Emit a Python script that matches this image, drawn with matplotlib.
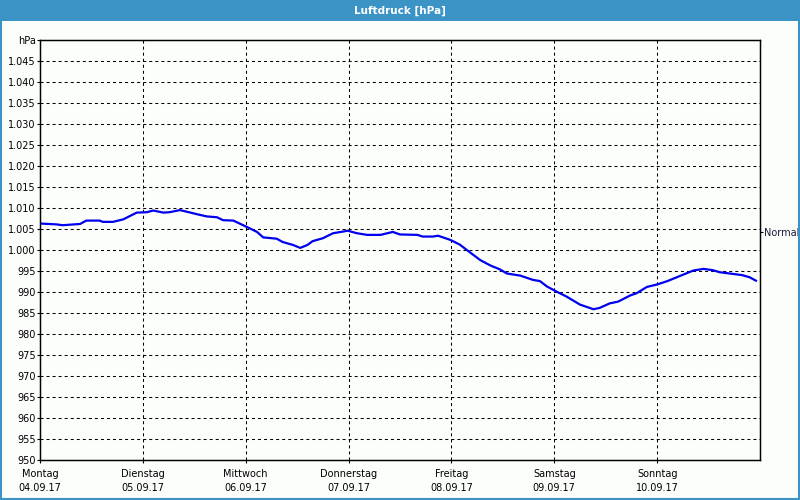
import matplotlib
matplotlib.use("Agg")
import matplotlib.pyplot as plt
from matplotlib.patches import Rectangle

# time in days since Monday 04.09.17 00:00, pressure in hPa
days = [0.0, 0.16, 0.22, 0.39, 0.45, 0.58, 0.61, 0.71, 0.81, 0.94, 1.04, 1.10,
        1.20, 1.26, 1.36, 1.43, 1.53, 1.62, 1.72, 1.78, 1.88, 2.01, 2.11, 2.17,
        2.30, 2.36, 2.46, 2.53, 2.60, 2.65, 2.75, 2.85, 2.95, 2.99, 3.08, 3.18,
        3.31, 3.43, 3.50, 3.67, 3.72, 3.82, 3.87, 3.99, 4.08, 4.15, 4.28, 4.38,
        4.47, 4.54, 4.67, 4.79, 4.86, 4.93, 5.03, 5.12, 5.25, 5.38, 5.44, 5.54,
        5.62, 5.74, 5.80, 5.90, 6.00, 6.10, 6.22, 6.35, 6.45, 6.54, 6.61, 6.74,
        6.83, 6.90, 6.96]
pressure = [1006.3, 1006.1, 1005.9, 1006.2, 1007.0, 1007.0, 1006.7, 1006.7, 1007.3, 1008.9, 1009.0, 1009.4,
            1008.9, 1009.0, 1009.5, 1009.1, 1008.5, 1008.0, 1007.8, 1007.1, 1007.0, 1005.5, 1004.3, 1003.0,
            1002.7, 1001.9, 1001.2, 1000.5, 1001.2, 1002.1, 1002.8, 1004.0, 1004.4, 1004.6, 1004.0, 1003.6,
            1003.6, 1004.3, 1003.7, 1003.6, 1003.2, 1003.2, 1003.4, 1002.4, 1001.3, 1000.0, 997.6, 996.3,
            995.4, 994.4, 993.9, 992.9, 992.6, 991.3, 990.0, 988.9, 987.0, 985.9, 986.2, 987.3,
            987.7, 989.2, 989.7, 991.2, 991.8, 992.6, 993.8, 995.1, 995.5, 995.2, 994.7, 994.3,
            994.0, 993.5, 992.7]

day_names = ["Montag", "Dienstag", "Mittwoch", "Donnerstag", "Freitag", "Samstag", "Sonntag"]
dates = ["04.09.17", "05.09.17", "06.09.17", "07.09.17", "08.09.17", "09.09.17", "10.09.17"]
normal = 1004.4

y_ticks = list(range(950, 1051, 5))
y_labels = []
for v in y_ticks:
    if v == 1050:
        y_labels.append("hPa")
    elif v >= 1000:
        y_labels.append("%d.%03d" % (v // 1000, v % 1000))
    else:
        y_labels.append(str(v))

bg = "#fcfefc"
blue = "#3c94c6"
plt.rcParams["font.family"] = "DejaVu Sans"
plt.rcParams["font.size"] = 7

fig = plt.figure(figsize=(8, 5), dpi=100, facecolor=bg)
# title bar and window frame
fig.patches.append(Rectangle((0, 0.958), 1, 0.042, transform=fig.transFigure,
                             facecolor=blue, edgecolor="none", zorder=0))
fig.patches.append(Rectangle((0.001, 0.003), 0.998, 0.996, transform=fig.transFigure,
                             facecolor="none", edgecolor=blue, lw=1.5, zorder=0))
fig.text(0.5, 0.979, "Luftdruck [hPa]", color="white", fontweight="bold",
         ha="center", va="center", fontsize=7.5)

ax = fig.add_axes([0.05, 0.08, 0.9, 0.84])
ax.set_facecolor(bg)
ax.plot(days, pressure, color="#0000ee", lw=1.6, zorder=3)

ax.set_xlim(0, 7)
ax.set_ylim(950, 1050)
ax.set_yticks(y_ticks)
ax.set_yticklabels(y_labels)
ax.set_xticks(range(7))
ax.set_xticklabels([n + "\n" + d for n, d in zip(day_names, dates)], linespacing=1.6)
ax.tick_params(axis="both", direction="out", length=2.2, width=0.8, pad=1, colors="black")
ax.tick_params(axis="x", pad=4)

for v in y_ticks[1:-1]:
    ax.axhline(v, color="black", lw=0.75, dashes=(2.9, 2.9), zorder=1)
for d in range(1, 7):
    ax.axvline(d, color="black", lw=0.75, dashes=(2.9, 2.9), zorder=1)
for s in ax.spines.values():
    s.set_linewidth(1.0)
    s.set_color("black")

ax2 = ax.twinx()
ax2.set_ylim(950, 1050)
ax2.set_yticks([normal])
ax2.set_yticklabels(["Normal"], color="#1a1a3a")
ax2.tick_params(axis="y", direction="out", length=2.2, width=0.8, pad=1)

fig.savefig("out.png", dpi=100, facecolor=bg)
